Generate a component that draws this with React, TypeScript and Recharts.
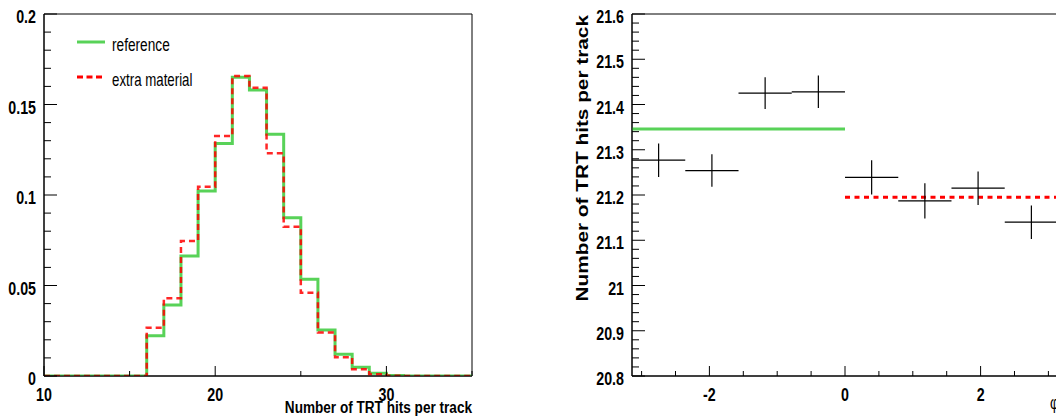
import {
  ComposedChart,
  Line,
  Scatter,
  ErrorBar,
  XAxis,
  YAxis,
  ReferenceArea,
  Legend,
  Label,
} from "recharts";

const FONT = "'Liberation Sans', Arial, Helvetica, sans-serif";
const GREEN = "#58d258";
const RED = "#ff0000";

// left panel: fraction of tracks per number of TRT hits (bins of width 1)
const hitBins = [10, 11, 12, 13, 14, 15, 16, 17, 18, 19, 20, 21, 22, 23, 24, 25, 26, 27, 28, 29, 30, 31, 32, 33, 34];
const hitUpperEdge = 35;
const referenceFrac = [
  0, 0, 0, 0, 0, 0, 0.0223, 0.0392, 0.0663, 0.1022, 0.1285, 0.165, 0.158, 0.1335, 0.0875, 0.0534, 0.0254, 0.012,
  0.0048, 0.0015, 0.0003, 0, 0, 0, 0,
];
const extraFrac = [
  0, 0, 0, 0, 0, 0, 0.0267, 0.0429, 0.0746, 0.1046, 0.1326, 0.1657, 0.1593, 0.123, 0.0825, 0.046, 0.0241, 0.0103,
  0.0037, 0.001, 0.0002, 0, 0, 0, 0,
];
const hitsTicks = [10, 15, 20, 25, 30, 35];
const hitsMajor = [10, 20, 30];
const fracMajor = [0, 0.05, 0.1, 0.15, 0.2];

// right panel: mean number of TRT hits vs phi
const phiRange = [-3.1416, 3.1416];
const phiCenters = [-2.749, -1.963, -1.178, -0.393, 0.393, 1.178, 1.963, 2.749];
const phiHalfWidth = 0.3927;
const meanHits = [21.277, 21.254, 21.425, 21.428, 21.239, 21.187, 21.215, 21.14];
const meanHitsErr = [0.037, 0.036, 0.035, 0.036, 0.038, 0.039, 0.037, 0.037];
const referenceMean = 21.346;
const extraMean = 21.195;
const phiMajor = [-2, 0, 2];
const meanMajor = [20.8, 20.9, 21, 21.1, 21.2, 21.3, 21.4, 21.5, 21.6];

const steps = (a: number, b: number, d: number) => {
  const out: number[] = [];
  for (let v = a; v <= b + 1e-9; v += d) out.push(Number(v.toFixed(4)));
  return out;
};
const isIn = (list: number[], v: number) => list.some((m) => Math.abs(m - v) < 1e-6);

const histData = hitBins.map((x, i) => ({ x, ref: referenceFrac[i], extra: extraFrac[i] }));
histData.push({
  x: hitUpperEdge,
  ref: referenceFrac[referenceFrac.length - 1],
  extra: extraFrac[extraFrac.length - 1],
});

const points = phiCenters.map((x, i) => ({ x, y: meanHits[i], ey: meanHitsErr[i], ex: phiHalfWidth }));
const refSeg = [
  { x: phiRange[0], v: referenceMean },
  { x: 0, v: referenceMean },
];
const extraSeg = [
  { x: 0, v: extraMean },
  { x: phiRange[1], v: extraMean },
];

const tickText = (x: number, y: number, anchor: string, label: string) => (
  <text
    transform={`translate(${x},${y}) scale(0.75,1)`}
    textAnchor={anchor}
    fontFamily={FONT}
    fontWeight="bold"
    fontSize={19}
    fill="#000"
  >
    {label}
  </text>
);

const yTick = (majors: number[]) => (props: any) => {
  const { x, y, payload } = props;
  const major = isIn(majors, payload.value);
  return (
    <g>
      <line x1={x} x2={x + (major ? 13 : 7)} y1={y} y2={y} stroke="#000" />
      {major && tickText(x - 8, y + 9, "end", String(payload.value))}
    </g>
  );
};

const xTick = (majors: number[]) => (props: any) => {
  const { x, y, payload } = props;
  const major = isIn(majors, payload.value);
  return (
    <g>
      <line x1={x} x2={x} y1={y} y2={y - (major ? 10 : 5)} stroke="#000" />
      {major && tickText(x, y + 25, "middle", String(payload.value))}
    </g>
  );
};

const HistLegend = () => (
  <svg width={200} height={70}>
    <line x1={7} x2={35} y1={14} y2={14} stroke={GREEN} strokeWidth={3} />
    <text transform="translate(42,22.5) scale(0.72,1)" fontFamily={FONT} fontSize={19} fill="#000">
      reference
    </text>
    <line x1={7} x2={32} y1={49} y2={49} stroke={RED} strokeWidth={3} strokeDasharray="6 3.5" />
    <text transform="translate(42,58) scale(0.7,1)" fontFamily={FONT} fontSize={19} fill="#000">
      extra material
    </text>
  </svg>
);

const HitsChart = () => (
  <ComposedChart width={480} height={419} data={histData} margin={{ top: 14, right: 8, bottom: 13, left: 14 }}>
    <XAxis
      dataKey="x"
      type="number"
      domain={[10, 35]}
      ticks={hitsTicks}
      interval={0}
      height={30}
      tickSize={0}
      tickMargin={0}
      tickLine={false}
      axisLine={{ stroke: "#000" }}
      tick={xTick(hitsMajor)}
    >
      <Label
        content={(p: any) => {
          const vb = p.viewBox || { x: 44, y: 376, width: 428 };
          return (
            <text
              transform={`translate(${vb.x + vb.width},${vb.y + 37}) scale(0.8,1)`}
              textAnchor="end"
              fontFamily={FONT}
              fontWeight="bold"
              fontSize={17}
              fill="#000"
            >
              Number of TRT hits per track
            </text>
          );
        }}
      />
    </XAxis>
    <YAxis
      type="number"
      domain={[0, 0.2]}
      allowDataOverflow
      ticks={steps(0, 0.2, 0.01)}
      interval={0}
      width={30}
      tickSize={0}
      tickMargin={0}
      tickLine={false}
      axisLine={{ stroke: "#000" }}
      tick={yTick(fracMajor)}
    />
    <ReferenceArea x1={10} x2={35} y1={0} y2={0.2} fill="none" stroke="#000" strokeWidth={1} ifOverflow="visible" />
    <Legend
      layout="vertical"
      align="center"
      verticalAlign="middle"
      wrapperStyle={{ left: 70, top: 28, width: 200 }}
      content={() => <HistLegend />}
    />
    <Line
      type="stepAfter"
      dataKey="ref"
      stroke={GREEN}
      strokeWidth={3}
      dot={false}
      activeDot={false}
      isAnimationActive={false}
    />
    <Line
      type="stepAfter"
      dataKey="extra"
      stroke={RED}
      strokeWidth={2.5}
      strokeDasharray="6 4"
      strokeOpacity={0.85}
      dot={false}
      activeDot={false}
      isAnimationActive={false}
    />
  </ComposedChart>
);

const PhiChart = () => (
  <ComposedChart width={500} height={419} margin={{ top: 14, right: 2, bottom: 13, left: 42 }}>
    <XAxis
      dataKey="x"
      type="number"
      domain={phiRange}
      allowDataOverflow
      ticks={steps(-3, 3, 0.5)}
      interval={0}
      height={30}
      tickSize={0}
      tickMargin={0}
      tickLine={false}
      axisLine={{ stroke: "#000" }}
      tick={xTick(phiMajor)}
    >
      <Label
        content={(p: any) => {
          const vb = p.viewBox || { x: 72, y: 376, width: 426 };
          return (
            <text
              transform={`translate(${vb.x + vb.width - 8},${vb.y + 33}) scale(0.75,1)`}
              textAnchor="start"
              fontFamily={FONT}
              fontSize={18}
              fill="#000"
            >
              φ
            </text>
          );
        }}
      />
    </XAxis>
    <YAxis
      type="number"
      domain={[20.8, 21.6]}
      allowDataOverflow
      ticks={steps(20.8, 21.6, 0.02)}
      interval={0}
      width={30}
      tickSize={0}
      tickMargin={0}
      tickLine={false}
      axisLine={{ stroke: "#000" }}
      tick={yTick(meanMajor)}
    >
      <Label
        content={(p: any) => {
          const vb = p.viewBox || { x: 42, y: 14 };
          return (
            <text
              transform={`translate(${vb.x - 14},${vb.y + 1}) rotate(-90) scale(1.3,1)`}
              textAnchor="end"
              fontFamily={FONT}
              fontWeight="bold"
              fontSize={16}
              fill="#000"
            >
              Number of TRT hits per track
            </text>
          );
        }}
      />
    </YAxis>
    <ReferenceArea
      x1={phiRange[0]}
      x2={phiRange[1]}
      y1={20.8}
      y2={21.6}
      fill="none"
      stroke="#000"
      strokeWidth={1}
      ifOverflow="visible"
    />
    <Line
      data={refSeg}
      dataKey="v"
      stroke={GREEN}
      strokeWidth={3}
      dot={false}
      activeDot={false}
      isAnimationActive={false}
    />
    <Line
      data={extraSeg}
      dataKey="v"
      stroke={RED}
      strokeWidth={3}
      strokeDasharray="5 4.5"
      dot={false}
      activeDot={false}
      isAnimationActive={false}
    />
    <Scatter data={points} dataKey="y" shape={() => <g />} isAnimationActive={false}>
      <ErrorBar dataKey="ey" direction="y" width={0} stroke="#000" strokeWidth={1.2} isAnimationActive={false} />
      <ErrorBar dataKey="ex" direction="x" width={0} stroke="#000" strokeWidth={1.2} isAnimationActive={false} />
    </Scatter>
  </ComposedChart>
);

export default function App() {
  return (
    <div
      style={{
        position: "absolute",
        left: 0,
        top: 0,
        width: 1056,
        height: 419,
        overflow: "hidden",
        background: "#fff",
      }}
    >
      <div style={{ position: "absolute", left: 0, top: 0 }}>
        <HitsChart />
      </div>
      <div style={{ position: "absolute", left: 560, top: 0 }}>
        <PhiChart />
      </div>
    </div>
  );
}
